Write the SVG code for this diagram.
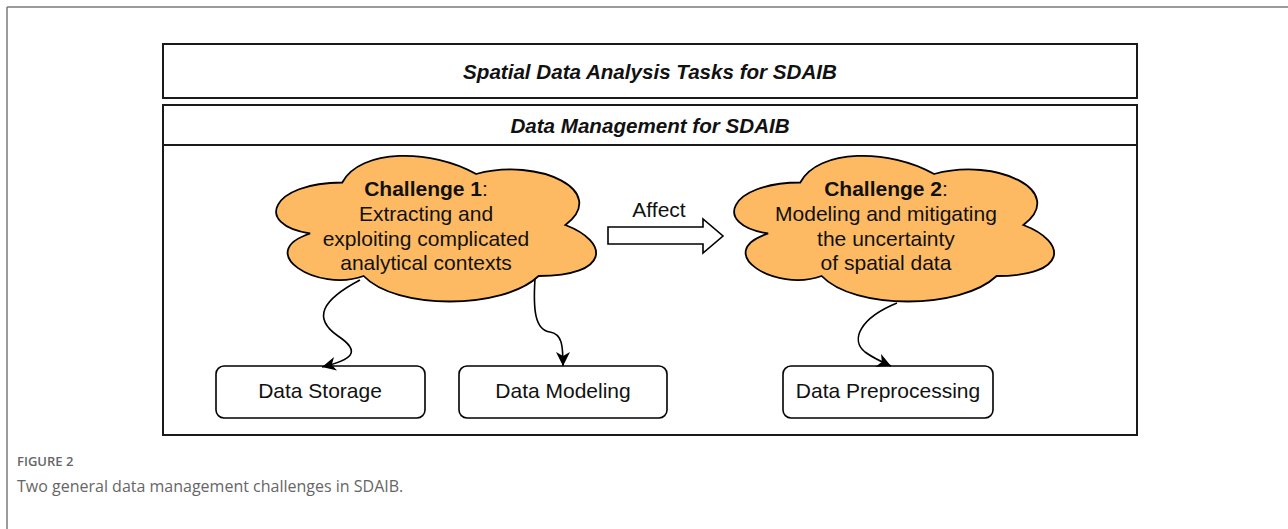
<svg xmlns="http://www.w3.org/2000/svg" width="1288" height="529" viewBox="0 0 1288 529">
<style>
.frame{fill:#fff;stroke:#1a1a1a;stroke-width:2}
.node{fill:#fff;stroke:#000;stroke-width:1.6}
.cloud{fill:#FDBA63;stroke:#000;stroke-width:1.8}
.t{font-family:"Liberation Sans",Arial,sans-serif;font-size:21px;fill:#111;text-anchor:middle}
.ti{font-weight:bold;font-style:italic;font-size:20.6px}
.edge{fill:none;stroke:#000;stroke-width:1.6}
.cap{font-family:"Open Sans","Noto Sans",sans-serif;fill:#666}
</style>
<defs>
<marker id="ah" markerWidth="16" markerHeight="14" refX="14" refY="7" orient="auto" markerUnits="userSpaceOnUse">
<path d="M0,0 L14,7 L0,14 L4,7 Z" fill="#000"/>
</marker>
<path id="cloudShape" d="M 89.25 42.5 C 17.85 42.5 0 85 57.12 93.5 C 0 112.2 64.26 153 110.67 136 C 142.8 170 249.9 170 285.6 136 C 357 136 357 102 312.38 85 C 357 51 285.6 17 223.13 34 C 178.5 8.5 107.1 8.5 89.25 42.5 Z"/>
</defs>
<g id="page">
<line x1="7" y1="7" x2="1288" y2="7" stroke="#7a7a7a" stroke-width="1.5"/>
<line x1="7" y1="7" x2="7" y2="529" stroke="#7a7a7a" stroke-width="1.5"/>
</g>
<g id="tasks">
<rect class="frame" x="163" y="44" width="974" height="54"/>
<text class="t ti" x="650" y="79">Spatial Data Analysis Tasks for SDAIB</text>
</g>
<g id="management">
<rect class="frame" x="163" y="105" width="974" height="330"/>
<line x1="163" y1="145" x2="1137" y2="145" stroke="#1a1a1a" stroke-width="2"/>
<text class="t ti" x="650" y="133">Data Management for SDAIB</text>
</g>
<g id="challenge1">
<use href="#cloudShape" class="cloud" transform="translate(253,140)"/>
<text class="t" x="426" y="196"><tspan font-weight="bold">Challenge 1</tspan>:</text>
<text class="t" x="426" y="221">Extracting and</text>
<text class="t" x="426" y="246">exploiting complicated</text>
<text class="t" x="426" y="270">analytical contexts</text>
</g>
<g id="challenge2">
<use href="#cloudShape" class="cloud" transform="translate(711,140)"/>
<text class="t" x="886" y="196"><tspan font-weight="bold">Challenge 2</tspan>:</text>
<text class="t" x="886" y="221">Modeling and mitigating</text>
<text class="t" x="886" y="246">the uncertainty</text>
<text class="t" x="886" y="270">of spatial data</text>
</g>
<g id="storage">
<rect class="node" x="216" y="366" width="209" height="52" rx="8"/>
<text class="t" x="320" y="398">Data Storage</text>
</g>
<g id="modeling">
<rect class="node" x="459" y="366" width="208" height="52" rx="8"/>
<text class="t" x="563" y="398">Data Modeling</text>
</g>
<g id="preprocessing">
<rect class="node" x="783" y="366" width="210" height="52" rx="8"/>
<text class="t" x="888" y="398">Data Preprocessing</text>
</g>
<g id="connectors">
<path class="edge" d="M 360 280 C 322 300, 312 318, 338 336 C 362 352, 352 360, 322 367" marker-end="url(#ah)"/>
<path class="edge" d="M 535 279 C 533 310, 535 330, 550 332 C 562 334, 563 345, 563 366" marker-end="url(#ah)"/>
<path class="edge" d="M 897 303 C 860 318, 850 340, 865 352 C 873 358, 882 362, 891 366" marker-end="url(#ah)"/>
<g id="affect">
<path d="M 608 227 L 703 227 L 703 219 L 723 236 L 703 253 L 703 244 L 608 244 Z" fill="#fff" stroke="#000" stroke-width="1.6"/>
<text class="t" x="659" y="217">Affect</text>
</g>
</g>
<g id="caption">
<text class="cap" x="17" y="466" font-size="13" font-weight="600">FIGURE 2</text>
<text class="cap" x="17" y="492" font-size="16">Two general data management challenges in SDAIB.</text>
</g>
</svg>
